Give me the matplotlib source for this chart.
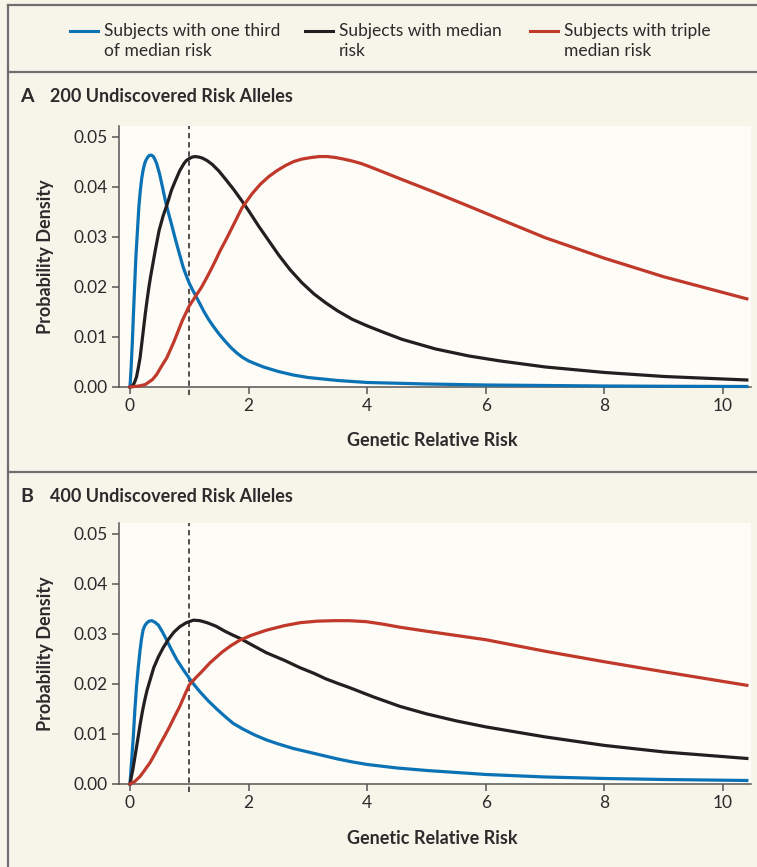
import matplotlib
matplotlib.use('Agg')
import matplotlib.pyplot as plt
from matplotlib.lines import Line2D

plt.rcParams['font.family'] = ['Lato', 'DejaVu Sans']

# ---- data ----
labels = ['Subjects with one third\nof median risk', 'Subjects with median\nrisk', 'Subjects with triple\nmedian risk']
titles = ['200 Undiscovered Risk Alleles', '400 Undiscovered Risk Alleles']
letters = ['A', 'B']

a_blue_x = [0, 0.02, 0.04, 0.06, 0.08, 0.1, 0.125, 0.15, 0.175, 0.2, 0.225, 0.25, 0.275, 0.3, 0.325, 0.35, 0.375,
            0.4, 0.425, 0.45, 0.5, 0.55, 0.6, 0.65, 0.7, 0.75, 0.8, 0.85, 0.9, 0.95, 1.0, 1.05, 1.1, 1.175, 1.25,
            1.325, 1.4, 1.5, 1.6, 1.7, 1.8, 1.9, 2.0, 2.1, 2.25, 2.5, 2.75, 3.0, 3.5, 4.0, 5.0, 6.0, 7.0, 8.0,
            9.0, 10.4]
a_blue_y = [0, 0.004, 0.009, 0.015, 0.0205, 0.026, 0.031, 0.036, 0.0393, 0.0418, 0.0435, 0.0447, 0.0454, 0.0459,
            0.0462, 0.0463, 0.0462, 0.0459, 0.0453, 0.0446, 0.0425, 0.0398, 0.037, 0.0347, 0.0325, 0.0302, 0.028,
            0.0259, 0.0238, 0.0222, 0.0207, 0.0195, 0.0184, 0.0167, 0.015, 0.0135, 0.0122, 0.0106, 0.0092,
            0.0079, 0.0068, 0.0059, 0.0052, 0.0047, 0.0040, 0.0031, 0.0024, 0.0019, 0.0013, 0.0009, 0.0006,
            0.0004, 0.0003, 0.0002, 0.00015, 0.0001]

a_black_x = [0, 0.05, 0.08, 0.11, 0.14, 0.17, 0.2, 0.23, 0.26, 0.29, 0.32, 0.35, 0.38, 0.43, 0.49, 0.56, 0.63,
             0.7, 0.77, 0.84, 0.91, 0.95, 1.0, 1.05, 1.1, 1.16, 1.22, 1.3, 1.39, 1.5, 1.61, 1.75, 1.89, 2.0, 2.17,
             2.34, 2.51, 2.7, 2.9, 3.1, 3.3, 3.5, 3.75, 4.0, 4.3, 4.59, 5.15, 5.71, 6.24, 7.0, 8.0, 9.0, 10.4]
a_black_y = [0, 0.0003, 0.001, 0.002, 0.0038, 0.0058, 0.0088, 0.0118, 0.0148, 0.0175, 0.0200, 0.0222, 0.0242,
             0.0275, 0.0312, 0.0342, 0.0366, 0.0393, 0.0413, 0.0432, 0.0446, 0.0452, 0.0456, 0.0459, 0.0460,
             0.0459, 0.0457, 0.0452, 0.0444, 0.0431, 0.0415, 0.0394, 0.0371, 0.0352, 0.0321, 0.0292, 0.0263,
             0.0234, 0.0208, 0.0186, 0.0168, 0.0152, 0.0135, 0.0122, 0.0108, 0.0095, 0.0076, 0.0062, 0.0052,
             0.0040, 0.0029, 0.0021, 0.0014]

a_red_x = [0, 0.15, 0.26, 0.38, 0.45, 0.55, 0.62, 0.74, 0.88, 1.0, 1.1, 1.2, 1.28, 1.36, 1.44, 1.52, 1.61, 1.7,
           1.78, 1.89, 2.06, 2.2, 2.34, 2.48, 2.62, 2.76, 2.9, 3.05, 3.19, 3.33, 3.47, 3.6, 3.75, 3.9, 4.08, 4.59,
           5.15, 5.71, 6.24, 7.0, 8.0, 9.0, 10.4]
a_red_y = [0, 0.0002, 0.0005, 0.0015, 0.0025, 0.0045, 0.0058, 0.0090, 0.0132, 0.0162, 0.0180, 0.0198, 0.0215,
           0.0233, 0.0252, 0.0272, 0.0292, 0.0313, 0.0332, 0.0358, 0.0386, 0.0405, 0.0420, 0.0432, 0.0442,
           0.0450, 0.0455, 0.0458, 0.0460, 0.0460, 0.0458, 0.0455, 0.0451, 0.0446, 0.0438, 0.0414, 0.0388,
           0.0361, 0.0335, 0.0298, 0.0257, 0.0220, 0.0176]

b_blue_x = [0, 0.03, 0.056, 0.08, 0.11, 0.14, 0.17, 0.195, 0.22, 0.25, 0.28, 0.32, 0.37, 0.42, 0.48, 0.55, 0.62,
            0.7, 0.79, 0.9, 1.0, 1.09, 1.18, 1.32, 1.46, 1.6, 1.74, 1.9, 2.1, 2.3, 2.5, 2.75, 3.0, 3.25, 3.5,
            3.75, 4.0, 4.5, 5.0, 6.0, 7.0, 8.0, 9.0, 10.4]
b_blue_y = [0, 0.005, 0.0094, 0.0143, 0.0194, 0.0233, 0.0267, 0.029, 0.0307, 0.0316, 0.0321, 0.0325, 0.0326,
            0.0323, 0.0317, 0.0303, 0.0287, 0.0268, 0.0248, 0.0228, 0.0211, 0.0197, 0.0184, 0.0166, 0.0150,
            0.0135, 0.0121, 0.0110, 0.0098, 0.0088, 0.0080, 0.0071, 0.0064, 0.0057, 0.0050, 0.0044, 0.0039,
            0.0032, 0.0027, 0.0019, 0.0014, 0.0011, 0.0009, 0.0007]

b_black_x = [0, 0.02, 0.05, 0.075, 0.1, 0.13, 0.17, 0.21, 0.25, 0.29, 0.34, 0.4, 0.48, 0.56, 0.65, 0.74, 0.84,
             0.95, 1.07, 1.18, 1.3, 1.45, 1.6, 1.72, 1.85, 2.05, 2.3, 2.6, 2.87, 3.1, 3.3, 3.5, 3.71, 4.1, 4.55,
             5.0, 5.5, 6.0, 7.0, 8.0, 9.0, 10.4]
b_black_y = [0, 0.0012, 0.003, 0.0048, 0.0066, 0.0088, 0.0118, 0.0145, 0.0168, 0.0188, 0.0208, 0.0232, 0.0254,
             0.0272, 0.0289, 0.0303, 0.0314, 0.0322, 0.0327, 0.0326, 0.0322, 0.0315, 0.0305, 0.0298, 0.0291,
             0.0278, 0.0262, 0.0247, 0.0232, 0.0221, 0.0210, 0.0201, 0.0192, 0.0174, 0.0155, 0.0140, 0.0126,
             0.0114, 0.0094, 0.0077, 0.0064, 0.0051]

b_red_x = [0, 0.08, 0.17, 0.25, 0.34, 0.42, 0.51, 0.59, 0.67, 0.75, 0.84, 0.92, 1.0, 1.1, 1.2, 1.35, 1.55, 1.7,
           1.85, 2.05, 2.3, 2.6, 2.87, 3.15, 3.43, 3.7, 3.99, 4.27, 4.55, 5.0, 6.0, 7.0, 8.0, 9.0, 10.4]
b_red_y = [0, 0.0005, 0.0015, 0.0028, 0.0043, 0.0060, 0.0080, 0.0097, 0.0115, 0.0134, 0.0155, 0.0177, 0.0198,
           0.0211, 0.0223, 0.0242, 0.0263, 0.0276, 0.0287, 0.0297, 0.0307, 0.0316, 0.0322, 0.0325, 0.0326,
           0.0326, 0.0324, 0.0319, 0.0313, 0.0305, 0.0288, 0.0265, 0.0244, 0.0224, 0.0197]

xticks = [0, 2, 4, 6, 8, 10]
yticks = [0.00, 0.01, 0.02, 0.03, 0.04, 0.05]

# ---- style ----
W, H = 757, 867
bg = '#f7f4ea'
plotbg = '#fdfcf7'
frame = '#6e6e6e'
blue, black, red = '#0b72b5', '#231f20', '#c0392b'
colors = [blue, black, red]
txt = '#2b2b2b'

fig = plt.figure(figsize=(W / 100, H / 100), dpi=100, facecolor=bg)

def fx(px):
    return px / W

def fy(py):
    return 1 - py / H

# frame / separators
for seg in [([8, 8], [5, H]), ([8, W], [5, 5]), ([8, W], [72, 72]), ([8, W], [472, 472])]:
    fig.add_artist(Line2D([fx(v) for v in seg[0]], [fy(v) for v in seg[1]], transform=fig.transFigure,
                          color=frame, lw=1.6))

# legend
leg_x = [70, 305, 530]
for lx, c, lab in zip(leg_x, colors, labels):
    fig.add_artist(Line2D([fx(lx), fx(lx + 28)], [fy(31), fy(31)], transform=fig.transFigure, color=c, lw=2.2))
    for k, line in enumerate(lab.split('\n')):
        fig.text(fx(lx + 34), fy(36 + 20 * k), line, ha='left', va='baseline', fontsize=12.5, color=txt)

series = [
    [(a_blue_x, a_blue_y), (a_black_x, a_black_y), (a_red_x, a_red_y)],
    [(b_blue_x, b_blue_y), (b_black_x, b_black_y), (b_red_x, b_red_y)],
]
ax_bottom = [387, 784]
title_y = [97, 496]

for i in range(2):
    top = ax_bottom[i] - 261
    ax = fig.add_axes([fx(119), fy(ax_bottom[i]), fx(632), 261 / H])
    ax.set_facecolor(plotbg)
    ax.set_xlim(-0.185, 10.47)
    ax.set_ylim(0, 0.0521)
    for (xs, ys), c in zip(series[i], colors):
        ax.plot(xs, ys, color=c, lw=2.3, clip_on=False, solid_joinstyle='round', zorder=3)
    ax.plot([1, 1], [-0.0016, 0.0521], color=black, lw=1.1, ls=(0, (3.5, 2.5)), clip_on=False, zorder=2)
    ax.set_xticks(xticks)
    ax.set_yticks(yticks)
    ax.set_yticklabels(['%.2f' % v for v in yticks])
    for s in ['top', 'right']:
        ax.spines[s].set_visible(False)
    for s in ['left', 'bottom']:
        ax.spines[s].set_color('#555555')
        ax.spines[s].set_linewidth(1.1)
    ax.tick_params(direction='out', length=5, width=1.1, color='#555555', labelsize=12.5, labelcolor=txt, pad=3)

    fig.text(fx(20), fy(title_y[i]), letters[i], ha='left', va='center', fontsize=14, weight='bold', color=txt)
    fig.text(fx(50), fy(title_y[i]), titles[i], ha='left', va='center', fontsize=13, weight='bold', color=txt)
    fig.text(fx(46), fy((top + ax_bottom[i]) / 2), 'Probability Density', rotation=90, ha='center', va='center',
             fontsize=13, weight='bold', color=txt)
    fig.text(fx(432), fy(ax_bottom[i] + 54), 'Genetic Relative Risk', ha='center', va='center',
             fontsize=13, weight='bold', color=txt)

fig.savefig('out.png', dpi=100, facecolor=bg)
